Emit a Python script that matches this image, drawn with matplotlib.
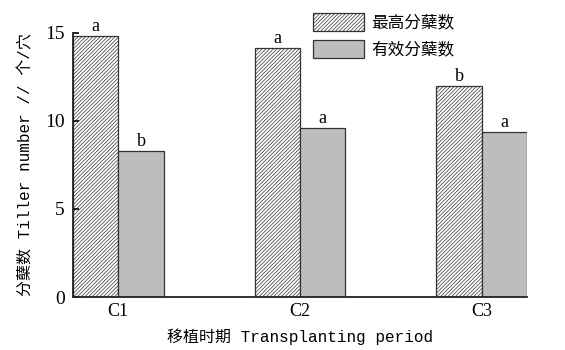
import matplotlib
matplotlib.use("Agg")
import matplotlib.pyplot as plt
import numpy as np

plt.rcParams['hatch.linewidth'] = 0.5
plt.rcParams['hatch.color'] = '#444444'
plt.rcParams['font.family'] = ['Liberation Serif', 'Noto Sans CJK SC']

categories = ["C1", "C2", "C3"]
max_tillers = [14.8, 14.15, 11.95]
eff_tillers = [8.3, 9.6, 9.35]
max_letters = ["a", "a", "b"]
eff_letters = ["b", "a", "a"]
series_names = ["最高分蘖数", "有效分蘖数"]
yticks = [0, 5, 10, 15]

fig = plt.figure(figsize=(5.65, 3.5), dpi=100)
ax = fig.add_axes([0.129, 0.151, 0.804, 0.756])

x = np.arange(len(categories))
w = 0.25
edge = '#333333'
b1 = ax.bar(x - w/2, max_tillers, w, color='white', edgecolor=edge, hatch='/' * 9, linewidth=0.9, label=series_names[0])
b2 = ax.bar(x + w/2, eff_tillers, w, color='#bdbdbd', edgecolor=edge, linewidth=0.9, label=series_names[1])

for xi, v, t in zip(x - w/2, max_tillers, max_letters):
    ax.text(xi, v + 0.05, t, ha='center', va='bottom', fontsize=13, family=['Liberation Serif'])
for xi, v, t in zip(x + w/2, eff_tillers, eff_letters):
    ax.text(xi, v + 0.05, t, ha='center', va='bottom', fontsize=13, family=['Liberation Serif'])

ax.set_xlim(-0.25, 2.25)
ax.set_ylim(0, 15)
ax.set_yticks(yticks)
ax.set_yticklabels([str(t) for t in yticks], fontsize=14)
ax.set_xticks(x)
ax.set_xticklabels(categories, fontsize=13)
ax.tick_params(axis='y', direction='in', length=4, width=1.2, pad=6)
ax.tick_params(axis='x', length=0, pad=4)
for s in ['top', 'right']:
    ax.spines[s].set_visible(False)
for s in ['left', 'bottom']:
    ax.spines[s].set_linewidth(1.3)
    ax.spines[s].set_color('#222222')

ax.set_xlabel("移植时期 Transplanting period", fontsize=11.5, family=['Liberation Mono', 'Noto Sans CJK SC'], labelpad=6)
ax.set_ylabel("分蘖数 Tiller number // 个/穴", fontsize=11.5, family=['Liberation Mono', 'Noto Sans CJK SC'], labelpad=8)

leg = ax.legend(loc='upper left', bbox_to_anchor=(0.527, 1.006), bbox_transform=fig.transFigure, frameon=False,
                handlelength=3.1, handleheight=1.3, handletextpad=0.4, labelspacing=0.5,
                prop={'family': ['Noto Sans CJK SC'], 'size': 12})

fig.savefig("out.png", dpi=100)
